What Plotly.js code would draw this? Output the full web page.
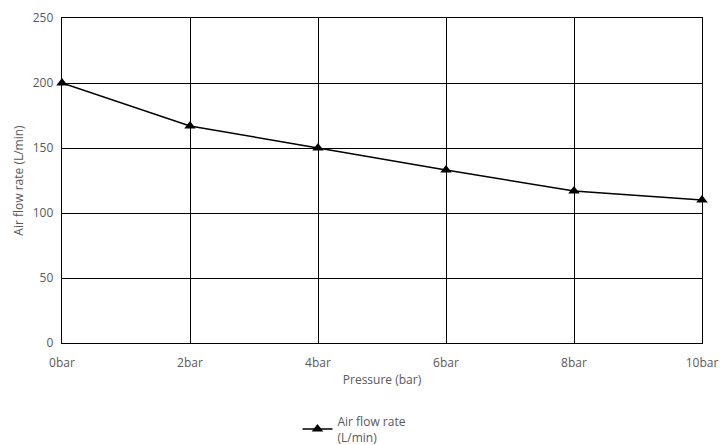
<!DOCTYPE html>
<html>
<head>
<meta charset="utf-8">
<script src="https://cdn.plot.ly/plotly-3.0.1.min.js"></script>
<style>html,body{margin:0;padding:0;background:#fff;}#chart{width:720px;height:445px;}</style>
</head>
<body>
<div id="chart"></div>
<script>
const categories = ["0bar", "2bar", "4bar", "6bar", "8bar", "10bar"];
const flowRate = [200, 167, 150, 133, 117, 110];
const yTicks = [0, 50, 100, 150, 200, 250];
const seriesName = "Air flow rate<br>(L/min)";

const trace = {
  x: categories,
  y: flowRate,
  type: "scatter",
  mode: "lines+markers",
  name: seriesName,
  line: {color: "#000000", width: 1.5},
  marker: {symbol: "triangle-up", size: 10, color: "#000000"},
  cliponaxis: false
};

const layout = {
  width: 720,
  height: 445,
  margin: {l: 62, r: 18, t: 18, b: 102, autoexpand: false},
  paper_bgcolor: "#ffffff",
  plot_bgcolor: "#ffffff",
  font: {family: "Open Sans, sans-serif", size: 12, color: "#595959"},
  showlegend: true,
  legend: {
    orientation: "h",
    x: 0.457, xanchor: "center",
    y: -0.266, yanchor: "middle",
    font: {size: 12, color: "#595959"}
  },
  xaxis: {
    type: "category",
    range: [0, 5],
    automargin: false,
    showgrid: true,
    gridcolor: "#000000",
    gridwidth: 1,
    showline: true,
    linecolor: "#000000",
    linewidth: 1.3,
    mirror: true,
    ticks: "",
    ticklabelstandoff: 8,
    zeroline: false,
    tickfont: {size: 12, color: "#595959"},
    title: {text: "Pressure (bar)", font: {size: 12, color: "#595959"}, standoff: 6}
  },
  yaxis: {
    range: [0, 250],
    tickvals: yTicks,
    automargin: false,
    showgrid: true,
    gridcolor: "#000000",
    gridwidth: 1,
    showline: true,
    linecolor: "#000000",
    linewidth: 1.3,
    mirror: true,
    ticks: "",
    ticklabelstandoff: 5,
    zeroline: false,
    tickfont: {size: 12, color: "#595959"},
    title: {text: "Air flow rate (L/min)", font: {size: 12, color: "#595959"}, standoff: 6}
  }
};

Plotly.newPlot("chart", [trace], layout, {displayModeBar: false, staticPlot: true});
</script>
</body>
</html>
